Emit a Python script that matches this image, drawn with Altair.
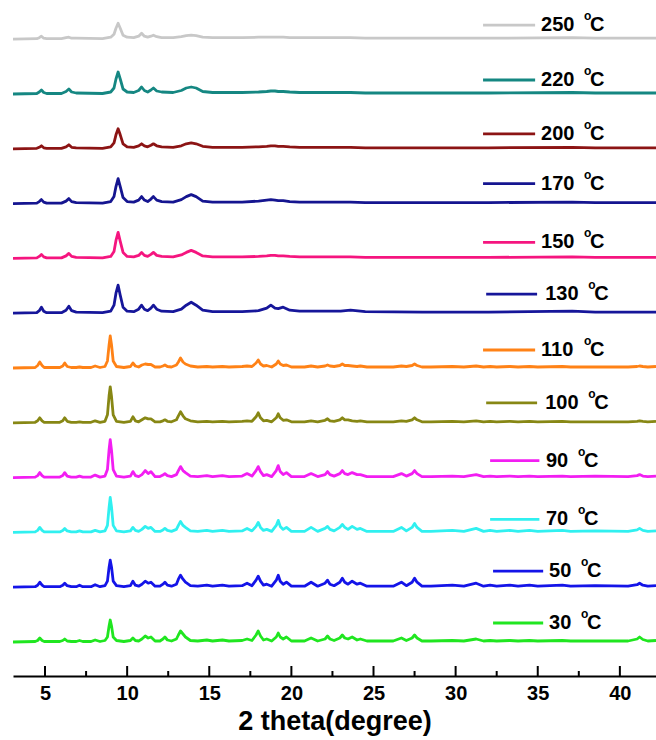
import altair as alt
import pandas as pd

# ---------------- data ----------------
TEMPS = ["30", "50", "70", "90", "100", "110", "130", "150", "170", "200", "220", "250"]
COLORS = ["#20e620", "#1414e8", "#30f0f0", "#f21ef2", "#878714", "#ff8216",
          "#16169a", "#f5157f", "#151590", "#8c1414", "#158782", "#c8c8c8"]

# 2-theta grid for the low-temperature patterns (30-110 C)
TT_LOW = [3.05, 4.4, 4.55, 4.68, 4.82, 4.95, 5.9, 6.08, 6.2, 6.35, 6.6, 6.9,
          7.1, 7.3, 7.8, 8.05, 8.35, 8.65, 8.8, 8.9, 8.97, 9.05, 9.15, 9.35,
          9.8, 10.2, 10.35, 10.5, 10.7, 10.9, 11.1, 11.28, 11.45, 11.7, 12.0, 12.18,
          12.3, 12.45, 12.7, 13.0, 13.12, 13.25, 13.4, 13.55, 13.85, 14.3, 14.85, 15.2,
          15.8, 16.2, 17.0, 17.3, 17.6, 17.85, 17.98, 18.12, 18.3, 18.5, 18.8, 19.08,
          19.2, 19.32, 19.5, 19.7, 20.0, 20.8, 21.2, 21.6, 22.05, 22.2, 22.35, 22.6,
          22.95, 23.1, 23.25, 23.45, 23.7, 24.0, 24.2, 24.6, 25.5, 26.2, 26.7, 27.0,
          27.35, 27.5, 27.65, 27.95, 28.5, 29.8, 30.5, 31.25, 31.7, 32.1, 32.5, 33.3,
          33.8, 34.5, 35.0, 36.5, 37.0, 38.5, 40.5, 41.05, 41.2, 41.4, 41.7, 42.2]

I_30 = [0, 0.5, 1.5, 4, 1.5, 0.5, 0.5, 1.5, 3, 1, 0.5, 0.5,
        1.5, 0.5, 0.5, 2, 0.5, 1.5, 5, 16, 22, 16, 5, 1.5,
        0.5, 1.5, 4, 1.5, 1, 3, 6, 4, 5, 1, 1, 3,
        5, 2, 1, 3, 7, 11, 8, 5, 1.5, 1, 2, 1,
        2, 1, 1.5, 3, 1.5, 7, 11, 6, 2, 3, 1, 5,
        9, 5, 3, 5, 1, 1, 4, 1, 3, 6, 3, 1.5,
        4, 7, 4, 3, 5, 2, 3, 1, 1, 1, 4, 1.5,
        4, 7, 4, 1, 1, 1.5, 1, 3, 1, 1.5, 1, 1.5,
        1, 1.5, 1, 1.5, 1, 1, 1, 3, 5, 2.5, 1, 1.5]
I_50 = [0, 0.5, 2, 5, 2, 0.5, 0.5, 2, 4, 1.5, 0.5, 0.5,
        2, 0.5, 0.5, 2.5, 0.5, 1.5, 6, 20, 27, 20, 6, 1.5,
        0.5, 1.5, 6, 2, 1, 3, 6, 4, 5, 1, 1, 3,
        5, 2, 1, 3, 8, 12, 8, 5, 1.5, 1, 2, 1,
        2, 1, 1.5, 4, 1.5, 7, 11, 6, 2, 3, 1, 7,
        12, 6, 3, 5, 1, 1, 5, 1, 4, 7, 3, 1.5,
        5, 9, 5, 3, 6, 3, 4, 1, 1, 1, 5, 1.5,
        5, 9, 5, 1, 1, 2, 1, 4, 1, 2, 1, 2,
        1, 2, 1, 2, 1, 1.5, 1, 2.5, 4, 2, 1, 1.5]
I_70 = [0, 0.5, 2, 5, 2, 0.5, 0.5, 2, 4, 1.5, 0.5, 0.5,
        1.5, 0.5, 0.5, 2, 0.5, 1.5, 7, 25, 35, 25, 7, 1.5,
        0.5, 1.5, 5, 2, 1, 3, 6, 4, 5, 1, 1, 2.5,
        4, 2, 1, 3, 7, 11, 7, 5, 1.5, 1, 2, 1,
        2, 1, 1.5, 4, 1.5, 6, 10, 5, 2, 3, 1, 7,
        12, 6, 3, 5, 1, 1, 5, 1, 4, 6, 3, 1.5,
        5, 8, 5, 3, 6, 3, 4, 1, 1, 1, 5, 1.5,
        5, 9, 5, 1, 1, 2, 1, 4, 1, 2, 1, 2,
        1, 2, 1, 2, 1, 1.5, 1, 2.5, 4, 2, 1, 1.5]
I_90 = [0, 0.5, 2, 5, 2, 0.5, 0.5, 2, 5, 1.5, 0.5, 0.5,
        1.5, 0.5, 0.5, 2.5, 0.5, 1.5, 8, 28, 38, 27, 8, 1.5,
        0.5, 1.5, 6, 2, 1, 3, 7, 4, 6, 1, 1, 2.5,
        4, 2, 1, 3, 7, 11, 7, 5, 1.5, 1, 2, 1,
        2, 1, 1.5, 4, 1.5, 7, 11, 6, 2, 3, 1, 7,
        12, 6, 3, 5, 1, 1, 4, 1, 3, 6, 3, 1.5,
        4, 7, 4, 3, 5, 3, 3, 1, 1, 1, 4, 1.5,
        4, 7, 4, 1, 1, 1.5, 1, 3, 1, 1.5, 1, 1.5,
        1, 1.5, 1, 1.5, 1, 1.5, 1, 2, 3, 1.5, 1, 1.5]
I_100 = [0, 0.5, 2, 5, 2, 0.5, 0.5, 2, 5, 1.5, 0.5, 0.5,
         1, 0.5, 0.5, 2, 0.5, 1.5, 8, 27, 36, 26, 8, 1.5,
         0.5, 1.5, 6, 2, 1, 3, 5, 4, 4, 1, 1, 2,
         3, 1.5, 1, 3, 7, 11, 7, 4, 2, 1, 1.5, 1,
         1.5, 1, 1.5, 2, 1.5, 6, 10, 5, 2, 2.5, 1, 5,
         9, 5, 2.5, 3, 1, 1, 2, 1, 2.5, 4, 2, 1.5,
         3, 5, 3, 3, 2, 1.5, 2, 1, 1, 1, 2, 1.5,
         3, 5, 3, 1, 1, 1.5, 1, 2, 1, 1.5, 1, 1.5,
         1, 1.5, 1, 1.5, 1, 1, 1, 1.5, 2, 1.5, 1, 1.5]
I_110 = [0, 0.5, 2.5, 6, 2.5, 0.5, 0.5, 2, 5, 1.5, 0.5, 0.5,
         1, 0.5, 0.5, 2, 0.5, 1.5, 7, 23, 32, 23, 7, 1.5,
         0.5, 1.5, 5, 2, 1, 3, 4, 3.5, 3.5, 1, 1, 2,
         3, 1.5, 1, 3, 6, 10, 6, 4, 2, 1, 1.5, 1,
         1.5, 1, 1.5, 2, 1.5, 5, 8, 4, 2, 2.5, 1, 4,
         7, 4, 2.5, 3, 1, 1, 2, 1, 2, 3, 2, 1.5,
         2.5, 4, 2.5, 2.5, 2, 1.5, 2, 1, 1, 1, 2, 1.5,
         2.5, 4, 2.5, 1, 1, 1.5, 1, 2, 1, 1.5, 1, 1.5,
         1, 1.5, 1, 1.5, 1, 1, 1, 1.5, 2, 1.5, 1, 1.5]

# 2-theta grid for the high-temperature patterns (130-250 C)
TT_HIGH = [3.05, 4.5, 4.65, 4.78, 4.92, 5.1, 6.0, 6.28, 6.45, 6.62, 6.9, 8.5,
           9.0, 9.2, 9.32, 9.45, 9.58, 9.75, 10.0, 10.4, 10.7, 10.88, 11.05, 11.25,
           11.45, 11.6, 11.8, 12.1, 12.8, 13.3, 13.6, 13.9, 14.2, 14.6, 15.2, 17.0,
           18.0, 18.5, 18.75, 19.0, 19.2, 19.5, 19.9, 20.5, 21.5, 23.0, 23.6, 24.5,
           28.0, 32.0, 37.1, 38.5, 42.2]
I_130 = [0, 0.5, 2.5, 6, 2, 0.5, 0.5, 3, 7, 2.5, 1, 0.5,
         2, 8, 20, 28, 18, 6, 2, 1.5, 4, 8, 4, 2.5,
         5, 8, 4, 2, 1.5, 4, 8, 11, 8, 3, 1.5, 1.5,
         2.5, 5, 8, 5, 4.5, 6, 3, 2, 2, 2, 3, 1.5,
         1, 1, 2, 1, 1]
I_150 = [0, 0.5, 2, 4, 1.5, 0.5, 0.5, 2.5, 5, 2, 1, 0.5,
         2, 7, 18, 26, 17, 6, 2, 1.5, 3, 6, 3, 2,
         4, 6, 3, 2, 1.5, 3.5, 6, 8, 6, 2.5, 1.5, 1.5,
         2, 2.5, 3, 3, 2.5, 2.5, 2, 1.5, 1.5, 1.5, 1.5, 1,
         1, 1, 1.5, 1, 1]
I_170 = [0, 0.5, 2, 4, 1.5, 0.5, 0.5, 2.5, 5, 2, 1, 0.5,
         2, 7, 17, 25, 17, 6, 2, 1.5, 3.5, 7, 3.5, 2,
         4.5, 7, 3.5, 2, 1.5, 4, 7, 9, 7, 2.5, 1.5, 1.5,
         2.5, 3.5, 4, 3.5, 3, 3, 2, 1.5, 1.5, 1.5, 1.5, 1,
         1, 1, 1.5, 1, 1]
I_200 = [0, 0.5, 1.5, 3, 1, 0.5, 0.5, 2, 4, 1.5, 1, 0.5,
         2, 6, 14, 20, 14, 5, 2, 1.5, 3, 5, 3, 2,
         3.5, 5, 3, 2, 1.5, 3, 5, 6, 5, 2.5, 1.5, 1.5,
         2, 2.5, 3, 3, 2.5, 2.5, 2, 1.5, 1.5, 1.5, 1.5, 1,
         1, 1, 1.5, 1, 1]
I_220 = [0, 0.5, 2, 4, 1.5, 0.5, 0.5, 2.5, 5, 2, 1, 0.5,
         2, 6, 15, 22, 15, 5, 2, 1.5, 3.5, 7, 3.5, 2,
         4, 6, 3, 2, 1.5, 3.5, 6, 7, 6, 2.5, 1.5, 1.5,
         2, 2.5, 3, 3, 2.5, 2.5, 2, 1.5, 1.5, 1.5, 1.5, 1,
         1, 1, 1.5, 1, 1]
I_250 = [0, 0.5, 1.5, 3, 1, 0.5, 0.5, 1.5, 2, 1, 1, 0.5,
         2, 5, 11, 16, 11, 4, 2, 1.5, 3, 6, 3, 2,
         3, 4, 2.5, 1.5, 1.5, 2.5, 3.5, 4, 3.5, 2, 1.5, 1.5,
         2, 2, 2, 2, 2, 2, 1.5, 1.5, 1.5, 1.5, 1.5, 1,
         1, 1, 1.5, 1, 1]

PATTERNS = [(TT_LOW, I_30), (TT_LOW, I_50), (TT_LOW, I_70), (TT_LOW, I_90),
            (TT_LOW, I_100), (TT_LOW, I_110), (TT_HIGH, I_130), (TT_HIGH, I_150),
            (TT_HIGH, I_170), (TT_HIGH, I_200), (TT_HIGH, I_220), (TT_HIGH, I_250)]

MAJOR_TICKS = [5, 10, 15, 20, 25, 30, 35, 40]
MINOR_TICKS = [7.5, 12.5, 17.5, 22.5, 27.5, 32.5, 37.5]

# ---------------- layout ----------------
X_MIN, X_MAX = 3.05, 42.2
PLOT_W, PLOT_H = 643, 671
BASE0, STEP = 34, 54.8                     # stacking offset (pixel units)
LABEL_DY = [19, 16, 13, 17, 20, 18, 19, 16, 20, 15, 14, 14]
LABEL_X = [(32.28, 35.33, 35.69), (32.28, 35.33, 35.69), (32.1, 35.1, 35.5),
           (32.1, 35.1, 35.5), (31.86, 34.96, 35.45), (31.67, 34.84, 35.2),
           (31.86, 34.96, 35.45), (31.67, 34.84, 35.2), (31.67, 34.84, 35.2),
           (31.67, 34.84, 35.2), (31.67, 34.84, 35.2), (31.67, 34.84, 35.2)]
FONT = "Liberation Sans"

rows = []
for i, (t, (tt, inten)) in enumerate(zip(TEMPS, PATTERNS)):
    for k, (x, v) in enumerate(zip(tt, inten, strict=True)):
        rows.append({"series": t, "order": k, "tt": x, "y": BASE0 + STEP * i + v})
lines_df = pd.DataFrame(rows)

lab_rows = []
for i, t in enumerate(TEMPS):
    x1, x2, xt = LABEL_X[i]
    lab_rows.append({"series": t, "x1": x1, "x2": x2, "xt": xt,
                     "y": BASE0 + STEP * i + LABEL_DY[i], "nd": len(t)})
lab_df = pd.DataFrame(lab_rows)

tick_df = pd.DataFrame({"v": MAJOR_TICKS + MINOR_TICKS,
                        "len": [10] * len(MAJOR_TICKS) + [5] * len(MINOR_TICKS)})

xs = alt.Scale(domain=[X_MIN, X_MAX], nice=False, zero=False)
ys = alt.Scale(domain=[0, PLOT_H], nice=False, zero=False)
cs = alt.Scale(domain=TEMPS, range=COLORS)

lines = alt.Chart(lines_df).mark_line(strokeWidth=2.8, clip=True, strokeJoin="round").encode(
    x=alt.X("tt:Q", scale=xs,
            axis=alt.Axis(values=MAJOR_TICKS, ticks=False, grid=False, domainColor="black",
                          domainWidth=2, labelFont=FONT, labelFontSize=20, labelFontWeight="bold",
                          labelColor="black", labelPadding=7, title="2 theta(degree)",
                          titleFont=FONT, titleFontSize=27, titleFontWeight="bold",
                          titleColor="black", titlePadding=5, labelFlush=False)),
    y=alt.Y("y:Q", scale=ys, axis=None),
    color=alt.Color("series:N", scale=cs, legend=None),
    order="order:Q",
)

ticks = alt.Chart(tick_df).mark_rule(color="black", strokeWidth=2).encode(
    x=alt.X("v:Q", scale=xs), y=alt.Y("len:Q", scale=ys), y2=alt.datum(0),
)

segs = alt.Chart(lab_df).mark_rule(strokeWidth=2.8).encode(
    x=alt.X("x1:Q", scale=xs), x2="x2:Q", y=alt.Y("y:Q", scale=ys),
    color=alt.Color("series:N", scale=cs, legend=None),
)
nums = alt.Chart(lab_df).mark_text(align="left", baseline="middle", font=FONT, fontSize=20,
                                   fontWeight="bold", color="black").encode(
    x=alt.X("xt:Q", scale=xs), y=alt.Y("y:Q", scale=ys), text="series:N",
)
deg3 = alt.Chart(lab_df).transform_filter("datum.nd == 3").mark_text(
    align="left", baseline="middle", font=FONT, fontSize=12, fontWeight="bold",
    color="black", dx=43, dy=-9).encode(
    x=alt.X("xt:Q", scale=xs), y=alt.Y("y:Q", scale=ys), text=alt.value("o"))
c3 = alt.Chart(lab_df).transform_filter("datum.nd == 3").mark_text(
    align="left", baseline="middle", font=FONT, fontSize=20, fontWeight="bold",
    color="black", dx=49).encode(
    x=alt.X("xt:Q", scale=xs), y=alt.Y("y:Q", scale=ys), text=alt.value("C"))
deg2 = alt.Chart(lab_df).transform_filter("datum.nd == 2").mark_text(
    align="left", baseline="middle", font=FONT, fontSize=12, fontWeight="bold",
    color="black", dx=32, dy=-9).encode(
    x=alt.X("xt:Q", scale=xs), y=alt.Y("y:Q", scale=ys), text=alt.value("o"))
c2 = alt.Chart(lab_df).transform_filter("datum.nd == 2").mark_text(
    align="left", baseline="middle", font=FONT, fontSize=20, fontWeight="bold",
    color="black", dx=38).encode(
    x=alt.X("xt:Q", scale=xs), y=alt.Y("y:Q", scale=ys), text=alt.value("C"))

chart = alt.layer(lines, ticks, segs, nums, deg3, c3, deg2, c2).properties(
    width=PLOT_W, height=PLOT_H,
    padding={"left": 13, "top": 5, "right": 0, "bottom": 64},
    autosize=alt.AutoSizeParams(type="none"),
    background="white",
).configure_view(stroke=None)

chart.save("out.html", embed_options={"renderer": "svg", "actions": False})
